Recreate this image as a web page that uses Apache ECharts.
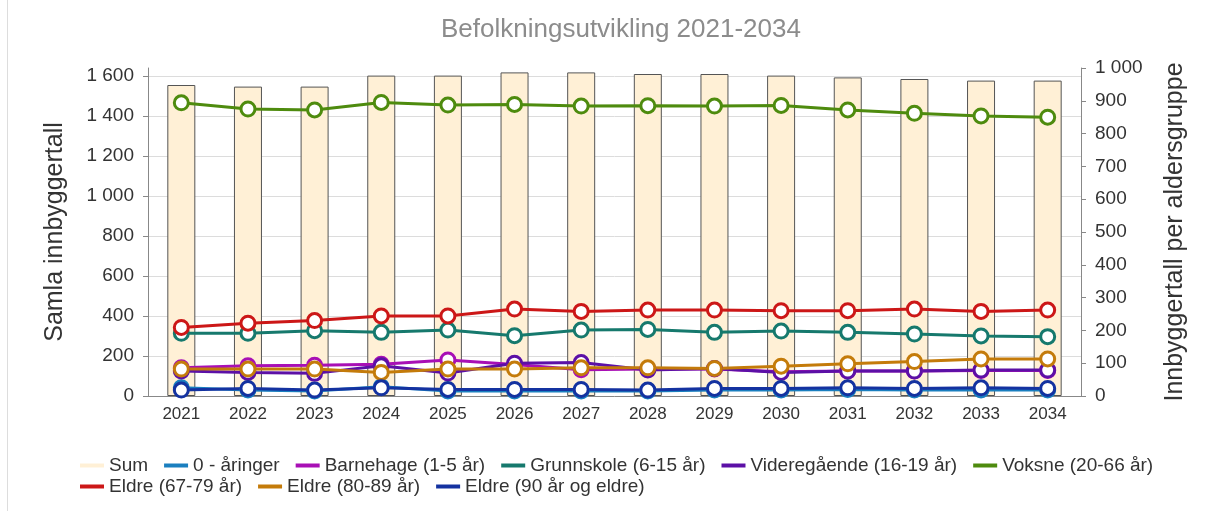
<!DOCTYPE html>
<html>
<head>
<meta charset="utf-8">
<script src="https://cdn.jsdelivr.net/npm/echarts@6/dist/echarts.min.js"></script>
<style>
  html, body { margin: 0; padding: 0; background: #fff; }
  #chart { width: 1206px; height: 511px; }
</style>
</head>
<body>
<div id="chart"></div>
<script>
var years = ['2021', '2022', '2023', '2024', '2025', '2026', '2027', '2028', '2029', '2030', '2031', '2032', '2033', '2034'];

var sum = [1555, 1547, 1547, 1602, 1602, 1618, 1618, 1610, 1610, 1602, 1593, 1585, 1577, 1577];
var aaringer = [25, 18, 15, 28, 15, 15, 15, 15, 18, 18, 20, 18, 18, 18];
var barnehage = [86, 92, 94, 97, 110, 96, 80, 82, 82, 74, 76, 76, 78, 78];
var grunnskole = [191, 191, 199, 194, 201, 184, 201, 203, 194, 198, 194, 189, 183, 181];
var videregaende = [76, 72, 69, 92, 70, 100, 102, 79, 84, 72, 76, 76, 79, 79];
var voksne = [894, 875, 872, 895, 887, 889, 884, 885, 884, 886, 872, 862, 854, 850];
var eldre6779 = [209, 222, 230, 244, 244, 265, 258, 262, 262, 260, 260, 265, 258, 262];
var eldre8089 = [82, 82, 82, 72, 82, 82, 86, 86, 84, 91, 98, 105, 113, 113];
var eldre90 = [18, 23, 18, 25, 20, 20, 20, 18, 23, 23, 25, 23, 25, 23];

var names = ['Sum', '0 - åringer', 'Barnehage (1-5 år)', 'Grunnskole (6-15 år)', 'Videregående (16-19 år)',
    'Voksne (20-66 år)', 'Eldre (67-79 år)', 'Eldre (80-89 år)', 'Eldre (90 år og eldre)'];
var colors = ['#fff0d6', '#1a7fbf', '#a80fb5', '#16796d', '#5c10a6', '#4e8b0e', '#cc1717', '#c47b0a', '#1432a0'];

var chart = echarts.init(document.getElementById('chart'), null, {renderer: 'canvas'});

function spaced(v) {
    return String(v).replace(/\B(?=(\d{3})+(?!\d))/g, ' ');
}

function lineSeries(i, data) {
    return {
        name: names[i],
        type: 'line',
        yAxisIndex: 1,
        data: data,
        symbol: 'circle',
        symbolSize: 14,
        lineStyle: {color: colors[i], width: 3},
        itemStyle: {color: '#fff', borderColor: colors[i], borderWidth: 3},
        emphasis: {disabled: true}
    };
}

function legendItems(from, to) {
    var out = [];
    for (var i = from; i < to; i++) {
        out.push({name: names[i], itemStyle: {color: colors[i], borderWidth: 0}});
    }
    return out;
}

var font = 'Liberation Sans, Arial, sans-serif';
var legendBase = {
    left: 75,
    itemWidth: 24,
    itemHeight: 4,
    itemGap: 16,
    icon: 'rect',
    textStyle: {fontSize: 19, color: '#333', fontFamily: font}
};

chart.setOption({
    animation: false,
    textStyle: {fontFamily: font},
    title: {
        text: 'Befolkningsutvikling 2021-2034',
        left: 436,
        top: 12,
        textStyle: {color: '#8c8c8c', fontSize: 26, fontWeight: 'normal', fontFamily: font}
    },
    legend: [
        Object.assign({top: 451, data: legendItems(0, 6)}, legendBase),
        Object.assign({top: 472, data: legendItems(6, 9)}, legendBase)
    ],
    grid: {left: 148, right: 125, top: 68, bottom: 115},
    xAxis: {
        type: 'category',
        data: years,
        boundaryGap: true,
        axisLine: {lineStyle: {color: '#888'}},
        axisTick: {length: 5, lineStyle: {color: '#888'}},
        axisLabel: {fontSize: 17, color: '#333', margin: 10}
    },
    yAxis: [
        {
            type: 'value',
            min: 0,
            max: 1640,
            interval: 200,
            name: 'Samla innbyggertall',
            nameLocation: 'middle',
            nameGap: 80,
            nameTextStyle: {fontSize: 25, color: '#333'},
            axisLine: {show: true, lineStyle: {color: '#888'}},
            axisTick: {show: true, length: 5, lineStyle: {color: '#888'}},
            axisLabel: {fontSize: 19, color: '#333', margin: 14, showMaxLabel: false, formatter: spaced},
            splitLine: {show: true, showMaxLine: false, lineStyle: {color: '#dcdcdc'}}
        },
        {
            type: 'value',
            min: 0,
            max: 1000,
            interval: 100,
            name: 'Innbyggertall per aldersgruppe',
            nameLocation: 'middle',
            nameGap: 82,
            nameRotate: 90,
            nameTextStyle: {fontSize: 25, color: '#333'},
            axisLine: {show: true, lineStyle: {color: '#888'}},
            axisTick: {show: true, length: 5, lineStyle: {color: '#888'}},
            axisLabel: {fontSize: 19, color: '#333', margin: 14, formatter: spaced},
            splitLine: {show: false}
        }
    ],
    graphic: [{
        type: 'line',
        shape: {x1: 7.5, y1: 0, x2: 7.5, y2: 511},
        style: {stroke: '#dddddd', lineWidth: 1}
    }],
    series: [
        {
            name: names[0],
            type: 'bar',
            yAxisIndex: 0,
            data: sum,
            barWidth: 28,
            itemStyle: {color: colors[0], borderColor: '#555', borderWidth: 1},
            emphasis: {disabled: true}
        },
        lineSeries(1, aaringer),
        lineSeries(2, barnehage),
        lineSeries(3, grunnskole),
        lineSeries(4, videregaende),
        lineSeries(5, voksne),
        lineSeries(6, eldre6779),
        lineSeries(7, eldre8089),
        lineSeries(8, eldre90)
    ]
});
</script>
</body>
</html>
